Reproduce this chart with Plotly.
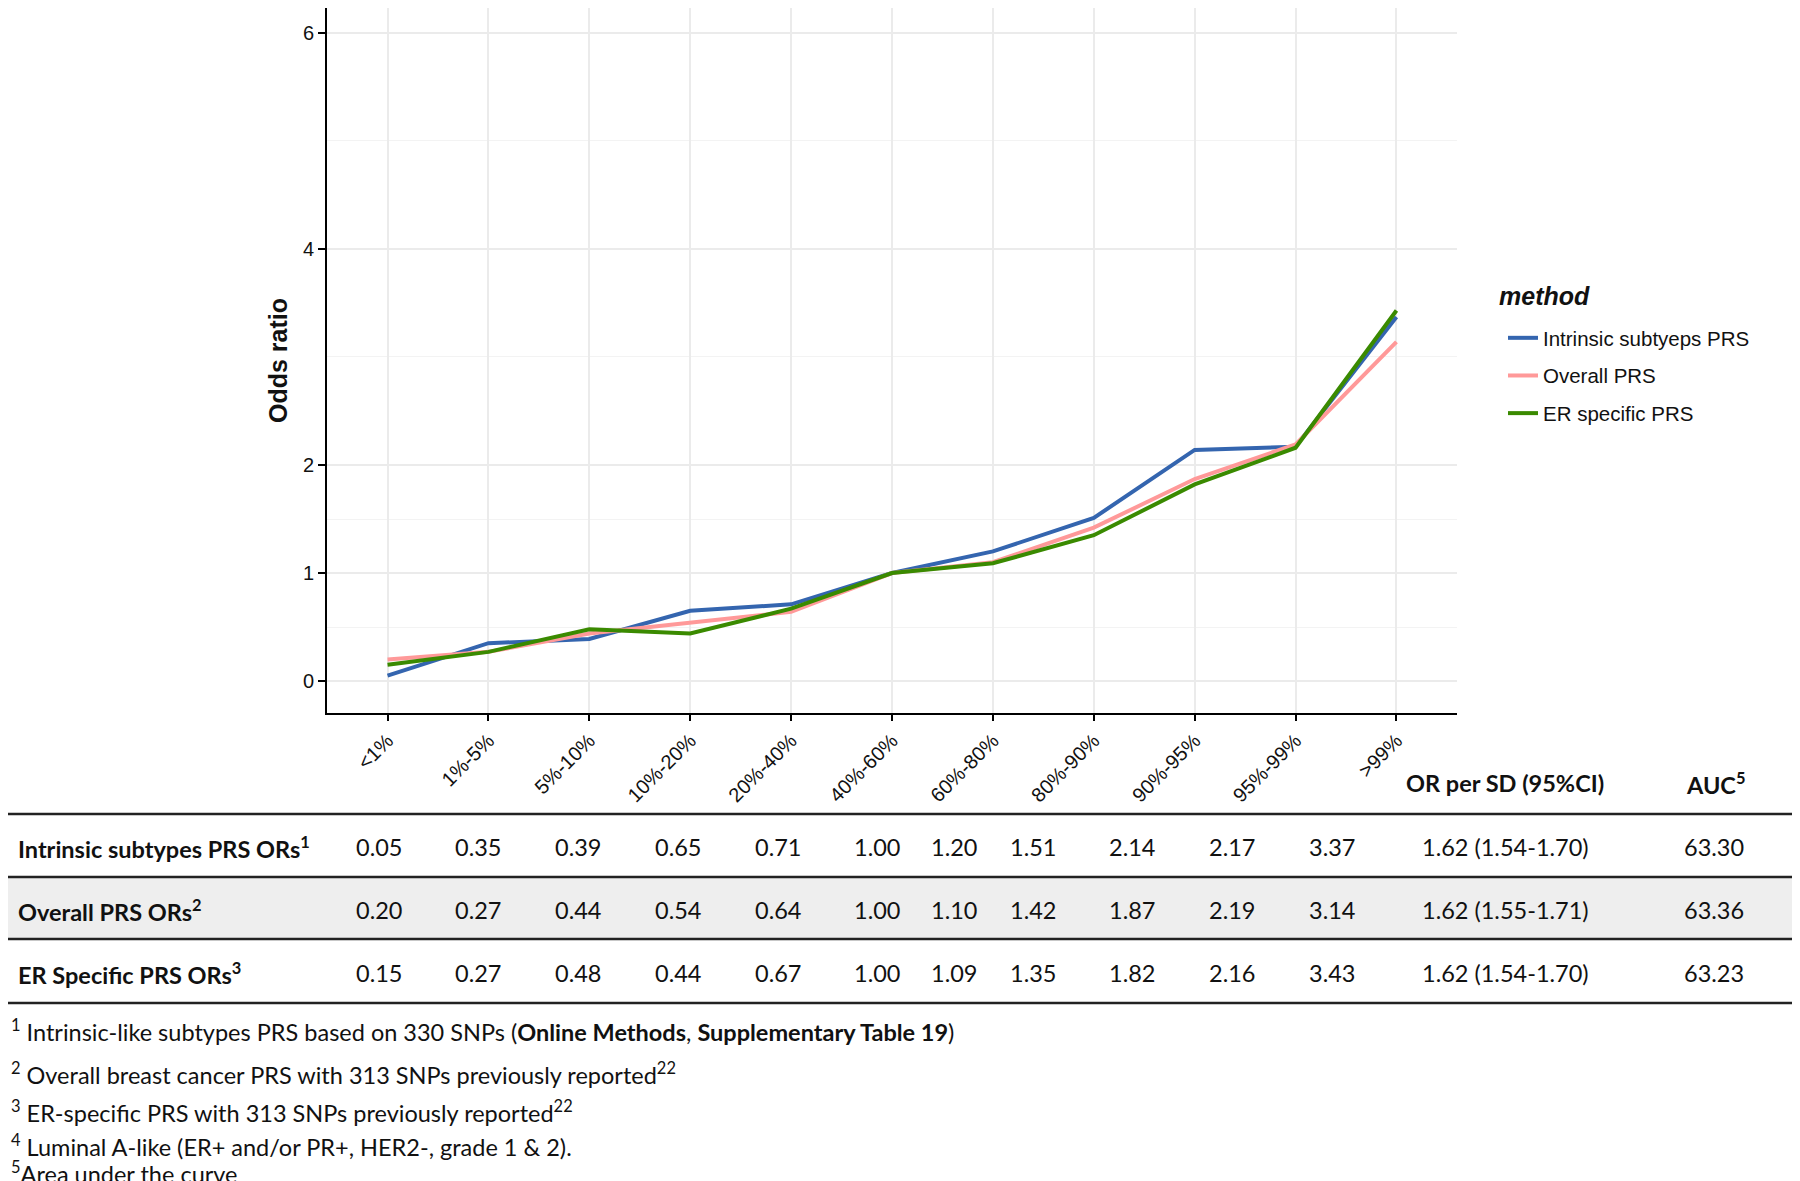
import plotly.graph_objects as go

# ---------------- data ----------------
categories = ["<1%", "1%-5%", "5%-10%", "10%-20%", "20%-40%", "40%-60%",
              "60%-80%", "80%-90%", "90%-95%", "95%-99%", ">99%"]
intrinsic = [0.05, 0.35, 0.39, 0.65, 0.71, 1.00, 1.20, 1.51, 2.14, 2.17, 3.37]
overall = [0.20, 0.27, 0.44, 0.54, 0.64, 1.00, 1.10, 1.42, 1.87, 2.19, 3.14]
er_specific = [0.15, 0.27, 0.48, 0.44, 0.67, 1.00, 1.09, 1.35, 1.82, 2.16, 3.43]
series_names = ["Intrinsic subtyeps PRS", "Overall PRS", "ER specific PRS"]
series_colors = ["#3465AF", "#FF9999", "#3A8A00"]
legend_title = "method"

row_labels = ["Intrinsic subtypes PRS ORs<sup>1</sup>",
              "Overall PRS ORs<sup>2</sup>",
              "ER Specific PRS ORs<sup>3</sup>"]
or_per_sd = ["1.62 (1.54-1.70)", "1.62 (1.55-1.71)", "1.62 (1.54-1.70)"]
auc = [63.30, 63.36, 63.23]
y_ticks = [0, 1, 2, 4, 6]
y_minor = [0.5, 1.5, 3, 5]

footnotes = [
    "<sup>1</sup> Intrinsic-like subtypes PRS based on 330 SNPs (<b>Online Methods</b>, <b>Supplementary Table 19</b>)",
    "<sup>2</sup> Overall breast cancer PRS with 313 SNPs previously reported<sup>22</sup>",
    "<sup>3</sup> ER-specific PRS with 313 SNPs previously reported<sup>22</sup>",
    "<sup>4</sup> Luminal A-like (ER+ and/or PR+, HER2-, grade 1 & 2).",
    "<sup>5</sup>Area under the curve",
]

# ---------------- layout helpers (screen pixel -> paper) ----------------
OFF = 8                      # page body margin
W, H = 1800 - OFF, 1181 - OFF
L, R, T, B = 327 - OFF, 1457 - OFF, 0, 713 - OFF


def px(x):
    return (x - OFF - L) / (R - L)


def py(y):
    return (B - (y - OFF)) / (B - T)


fig = go.Figure()
for name, vals, col in zip(series_names, [intrinsic, overall, er_specific], series_colors):
    fig.add_trace(go.Scatter(x=categories, y=vals, mode="lines", name=name,
                             legendgroup=name,
                             line=dict(color=col, width=4)))

TABLE_FONT = "Lato"
TS = 23.5
shapes = []
annotations = []

# gray band for second row
shapes.append(dict(type="rect", xref="paper", yref="paper", x0=px(0), x1=px(1800),
                   y0=py(939), y1=py(877), fillcolor="#EEEEEE", line_width=0,
                   layer="below"))
for yl in [814, 877, 939, 1003]:
    shapes.append(dict(type="line", xref="paper", yref="paper", x0=px(0), x1=px(1800),
                       y0=py(yl), y1=py(yl), line=dict(color="#222222", width=2.5)))

tab = []
# headers
tab.append(dict(text="<b>OR per SD (95%CI)</b>", x=px(1505), y=py(783)))
tab.append(dict(text="<b>AUC<sup>5</sup></b>", x=px(1715), y=py(783)))

col_x = [379, 478, 578, 678, 778, 877, 954, 1033, 1132, 1232, 1332]
row_y = [847, 910, 973]
rows = [intrinsic, overall, er_specific]
for i, (lab, vals) in enumerate(zip(row_labels, rows)):
    tab.append(dict(text="<b>" + lab + "</b>", x=px(16), y=py(row_y[i]),
                    xanchor="left"))
    for cx, v in zip(col_x, vals):
        tab.append(dict(text=f"{v:.2f}", x=px(cx), y=py(row_y[i])))
    tab.append(dict(text=or_per_sd[i], x=px(1505), y=py(row_y[i])))
    tab.append(dict(text=f"{auc[i]:.2f}", x=px(1714), y=py(row_y[i])))

foot_y = [1030, 1073, 1111, 1145, 1172]
for fy, ft in zip(foot_y, footnotes):
    tab.append(dict(text=ft, x=px(9), y=py(fy), xanchor="left"))

for a in tab:
    a.setdefault("xanchor", "center")
    a.update(xref="paper", yref="paper", yanchor="middle", showarrow=False,
             font=dict(family=TABLE_FONT, size=TS, color="#111111"))
annotations.extend(tab)

# legend title
annotations.append(dict(text="<b><i>" + legend_title + "</i></b>", x=px(1497), y=py(296),
                        xref="paper", yref="paper", xanchor="left", yanchor="middle",
                        showarrow=False,
                        font=dict(family="Liberation Sans", size=25, color="#111111")))

fig.update_layout(
    width=W, height=H, autosize=False,
    margin=dict(l=L, r=W - R, t=T, b=H - B, pad=0),
    paper_bgcolor="white", plot_bgcolor="white",
    font=dict(family="Liberation Sans", color="#111111"),
    shapes=shapes, annotations=annotations,
    legend=dict(
        font=dict(size=20.5, family="Liberation Sans", color="#111111"),
        x=px(1503), xanchor="left", y=py(318), yanchor="top",
        traceorder="grouped", tracegroupgap=8,
        bgcolor="rgba(0,0,0,0)",
    ),
    xaxis=dict(
        range=[-0.6, 10.6], tickangle=-45,
        tickfont=dict(size=20, family="Liberation Sans", color="#111111"),
        showline=True, linecolor="black", linewidth=2,
        ticks="outside", ticklen=6, tickwidth=2, tickcolor="black",
        showgrid=True, gridcolor="#EBEBEB", gridwidth=1.5, zeroline=False,
    ),
    yaxis=dict(
        range=[-0.296, 6.231], tickvals=y_ticks,
        tickfont=dict(size=20, family="Liberation Sans", color="#111111"),
        showline=True, linecolor="black", linewidth=2,
        ticks="outside", ticklen=7, tickwidth=2, tickcolor="black",
        showgrid=True, gridcolor="#EBEBEB", gridwidth=1.5, zeroline=False,
        minor=dict(tickvals=y_minor, showgrid=True, gridcolor="#F3F3F3",
                   gridwidth=1, ticks=""),
        title=dict(text="<b>Odds ratio</b>", font=dict(size=25, family="Liberation Sans"),
                   standoff=8),
    ),
)

fig.write_html("out.html")
